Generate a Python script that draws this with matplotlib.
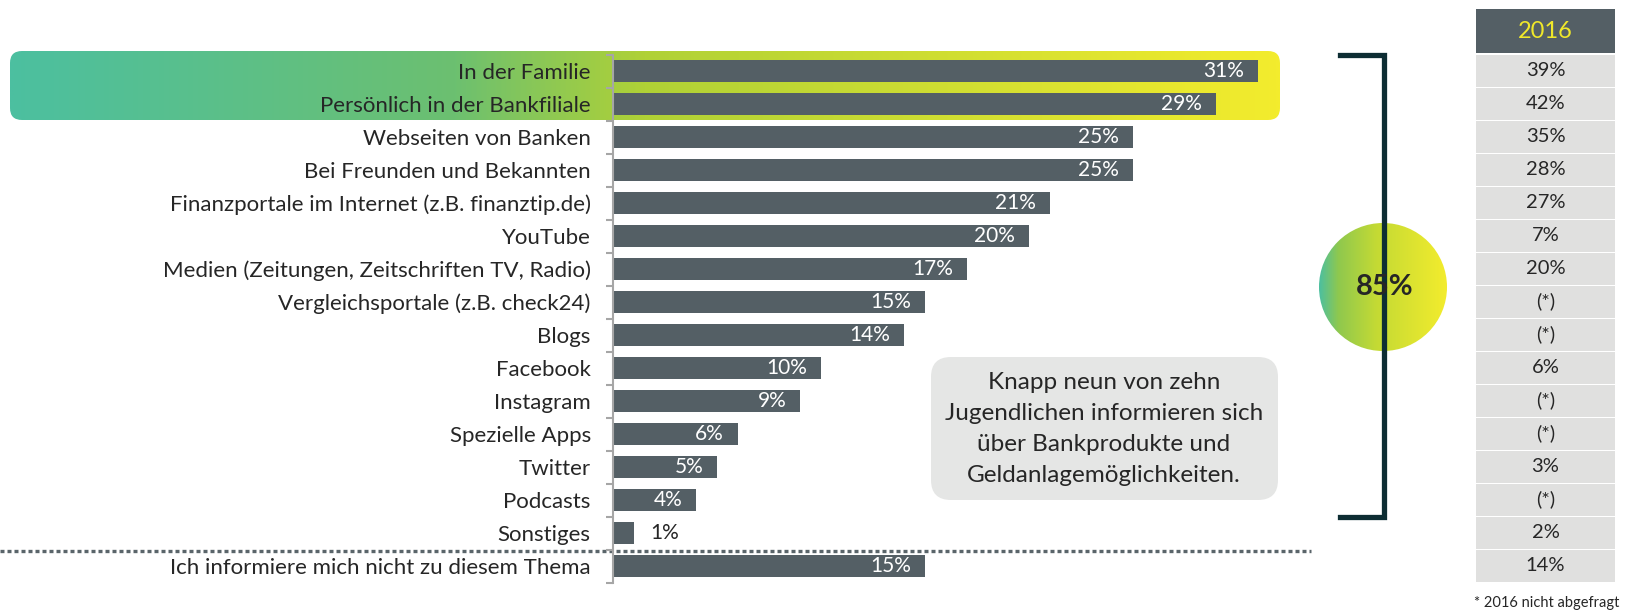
import numpy as np
import matplotlib
matplotlib.use("Agg")
import matplotlib.pyplot as plt
from matplotlib.patches import FancyBboxPatch, Circle, Rectangle
from matplotlib.colors import LinearSegmentedColormap

plt.rcParams['font.family'] = ['Lato', 'DejaVu Sans']

categories = [
    "In der Familie",
    "Persönlich in der Bankfiliale",
    "Webseiten von Banken",
    "Bei Freunden und Bekannten",
    "Finanzportale im Internet (z.B. finanztip.de)",
    "YouTube",
    "Medien (Zeitungen, Zeitschriften TV, Radio)",
    "Vergleichsportale (z.B. check24)",
    "Blogs",
    "Facebook",
    "Instagram",
    "Spezielle Apps",
    "Twitter",
    "Podcasts",
    "Sonstiges",
    "Ich informiere mich nicht zu diesem Thema",
]
values_2019 = [31, 29, 25, 25, 21, 20, 17, 15, 14, 10, 9, 6, 5, 4, 1, 15]
values_2016 = ["39%", "42%", "35%", "28%", "27%", "7%", "20%", "(*)", "(*)",
               "6%", "(*)", "(*)", "3%", "(*)", "2%", "14%"]
total_label = "85%"
note_text = ("Knapp neun von zehn\nJugendlichen informieren sich\n"
             "über Bankprodukte und\nGeldanlagemöglichkeiten.")

BAR = "#545f65"
TXT = "#262626"

W, H = 1632, 610
fig = plt.figure(figsize=(W / 100, H / 100), dpi=100)

# overlay in pixel coordinates for the decorations
ov = fig.add_axes([0, 0, 1, 1])
ov.set_xlim(0, W)
ov.set_ylim(H, 0)
ov.axis('off')

grad = np.linspace(0, 1, 512).reshape(1, -1)

# highlight box behind the first two rows
hl_cmap = LinearSegmentedColormap.from_list(
    "hl", [(0, "#4cbfa0"), (0.35, "#6cc070"), (0.5, "#b0d136"), (1, "#f3ec2d")])
r = 12
hbox = FancyBboxPatch((10 + r, 51 + r), 1270 - 2 * r, 69 - 2 * r,
                      boxstyle=f"round,pad={r}", fc="none", ec="none")
ov.add_patch(hbox)
im = ov.imshow(grad, extent=[10, 1280, 120, 51], cmap=hl_cmap, aspect='auto')
im.set_clip_path(hbox)

# bracket
bc = "#0d2d33"
ov.plot([1340, 1384, 1384, 1340], [55, 55, 517, 517], color=bc, lw=3.8,
        solid_joinstyle='miter')

# circle with gradient
c_cmap = LinearSegmentedColormap.from_list(
    "c", [(0, "#4cbfa0"), (0.15, "#8fc84e"), (0.45, "#c4da34"), (1, "#f3ec2d")])
circ = Circle((1383, 287), 64, fc="none", ec="none")
ov.add_patch(circ)
im2 = ov.imshow(grad, extent=[1319, 1447, 351, 223], cmap=c_cmap, aspect='auto')
im2.set_clip_path(circ)
ov.text(1385, 287, total_label, ha='center', va='center', fontsize=21,
        fontweight='bold', color=TXT)

# note box
r2 = 20
nbox = FancyBboxPatch((931 + r2, 357 + r2), 347 - 2 * r2, 143 - 2 * r2,
                      boxstyle=f"round,pad={r2}", fc="#e5e6e5", ec="none")
ov.add_patch(nbox)
ov.text(1104, 429, note_text, ha='center', va='center', fontsize=17.5,
        color=TXT, linespacing=1.6)

# dotted separator
ov.plot([0, 1311], [551, 551], color="#5a656a", lw=2.4,
        linestyle=(0, (1.2, 0.9)))

# 2016 table
row0, step = 70.5, 33
tx0, tw = 1476, 139
ov.add_patch(Rectangle((tx0, 9), tw, 44, fc=BAR, ec="none"))
ov.text(tx0 + tw / 2, 31, "2016", ha='center', va='center', fontsize=17,
        color="#f0e82a")
for i, v in enumerate(values_2016):
    yc = row0 + step * i
    ov.add_patch(Rectangle((tx0, yc - 15.5), tw, 31.5, fc="#e0e0df", ec="none"))
    ov.text(tx0 + tw / 2, yc, v, ha='center', va='center', fontsize=14.5, color=TXT)
ov.text(1619, 603, "* 2016 nicht abgefragt", ha='right', va='center',
        fontsize=10.5, color=TXT)
ov.set_xlim(0, W)
ov.set_ylim(H, 0)

# bar chart
n = len(categories)
ax = fig.add_axes([613 / W, 27.5 / H, 728 / W, 528 / H])
ax.patch.set_alpha(0)
y = np.arange(n)
ax.barh(y, values_2019, height=0.68, color=BAR)
ax.set_xlim(0, 35)
ax.set_ylim(n - 0.5, -0.5)
for s in ['top', 'right', 'bottom']:
    ax.spines[s].set_visible(False)
ax.spines['left'].set_color("#a6a6a6")
ax.spines['left'].set_linewidth(1.5)
ax.set_xticks([])
ax.set_yticks(y)
ax.set_yticklabels(categories, fontsize=16, color=TXT)
ax.tick_params(axis='y', which='major', length=0, pad=16)
ax.set_yticks(np.arange(n + 1) - 0.5, minor=True)
ax.tick_params(axis='y', which='minor', length=5, width=1.5, color="#a6a6a6")

for i, v in enumerate(values_2019):
    if v >= 2:
        ax.annotate(f"{v}%", (v, i), xytext=(-10, 0), textcoords='offset points',
                    ha='right', va='center', fontsize=15, color='white')
    else:
        ax.annotate(f"{v}%", (v, i), xytext=(12, 0), textcoords='offset points',
                    ha='left', va='center', fontsize=15, color=TXT)

fig.savefig("out.png", dpi=100)
